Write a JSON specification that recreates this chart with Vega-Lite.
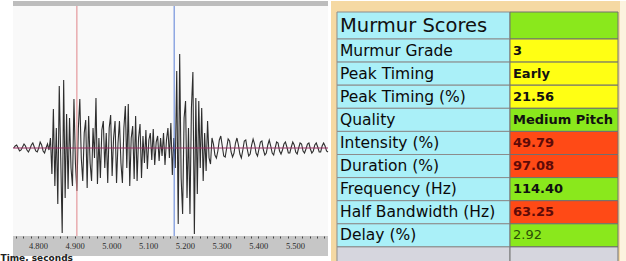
{
  "$schema": "https://vega.github.io/schema/vega-lite/v6.json",
  "padding": {"left": 0, "top": 0, "right": 0, "bottom": 0},
  "background": "white",
  "spacing": 0,
  "resolve": {"scale": {"color": "independent"}},
  "config": {"view": {"stroke": null}},
  "datasets": {
    "wave": [
      {"t":4.734,"a":0},{"t":4.738,"a":2},{"t":4.742,"a":3},{"t":4.746,"a":0},{"t":4.750,"a":-3},{"t":4.754,"a":-2},{"t":4.758,"a":1},{"t":4.762,"a":4},{"t":4.766,"a":2},{"t":4.770,"a":-2},
      {"t":4.774,"a":-4},{"t":4.778,"a":-1},{"t":4.782,"a":3},{"t":4.786,"a":5},{"t":4.790,"a":1},{"t":4.794,"a":-3},{"t":4.798,"a":-4},{"t":4.802,"a":0},{"t":4.806,"a":6},{"t":4.810,"a":3},
      {"t":4.814,"a":-3},{"t":4.818,"a":-5},{"t":4.822,"a":0},{"t":4.826,"a":4},{"t":4.830,"a":-2},
      {"t":4.834,"a":10},{"t":4.838,"a":-26},{"t":4.842,"a":39},{"t":4.846,"a":-38},{"t":4.850,"a":20},{"t":4.854,"a":-56},{"t":4.858,"a":62},{"t":4.862,"a":-10},{"t":4.866,"a":-85},{"t":4.870,"a":68},
      {"t":4.874,"a":-50},{"t":4.878,"a":34},{"t":4.882,"a":-41},{"t":4.886,"a":30},{"t":4.890,"a":-20},{"t":4.894,"a":-38},{"t":4.898,"a":49},{"t":4.902,"a":-15},{"t":4.906,"a":-43},{"t":4.910,"a":20},
      {"t":4.914,"a":49},{"t":4.918,"a":-10},{"t":4.922,"a":-33},{"t":4.926,"a":15},{"t":4.930,"a":28},{"t":4.934,"a":-40},{"t":4.938,"a":32},{"t":4.942,"a":-15},{"t":4.946,"a":-33},{"t":4.950,"a":20},
      {"t":4.954,"a":-10},{"t":4.958,"a":50},{"t":4.962,"a":-36},{"t":4.966,"a":10},{"t":4.970,"a":-30},{"t":4.974,"a":18},{"t":4.978,"a":27},{"t":4.982,"a":-20},{"t":4.986,"a":15},{"t":4.990,"a":-35},
      {"t":4.994,"a":20},{"t":4.998,"a":33},{"t":5.002,"a":-28},{"t":5.006,"a":10},{"t":5.010,"a":27},{"t":5.014,"a":-35},{"t":5.018,"a":5},{"t":5.022,"a":27},{"t":5.026,"a":-15},{"t":5.030,"a":-35},
      {"t":5.034,"a":20},{"t":5.038,"a":42},{"t":5.042,"a":-20},{"t":5.046,"a":44},{"t":5.050,"a":-38},{"t":5.054,"a":10},{"t":5.058,"a":22},{"t":5.062,"a":-31},{"t":5.066,"a":32},{"t":5.070,"a":-33},
      {"t":5.074,"a":10},{"t":5.078,"a":24},{"t":5.082,"a":-30},{"t":5.086,"a":12},{"t":5.090,"a":-15},
      {"t":5.094,"a":18},{"t":5.098,"a":-21},{"t":5.102,"a":8},{"t":5.106,"a":15},{"t":5.110,"a":-12},{"t":5.114,"a":19},{"t":5.118,"a":-17},{"t":5.122,"a":6},{"t":5.126,"a":12},{"t":5.130,"a":-13},
      {"t":5.134,"a":10},{"t":5.138,"a":-8},{"t":5.142,"a":15},{"t":5.146,"a":-17},{"t":5.150,"a":8},{"t":5.154,"a":20},
      {"t":5.158,"a":-10},{"t":5.162,"a":25},{"t":5.166,"a":-27},{"t":5.170,"a":10},{"t":5.174,"a":-20},{"t":5.178,"a":77},{"t":5.182,"a":-76},{"t":5.186,"a":94},{"t":5.190,"a":-30},{"t":5.194,"a":-66},
      {"t":5.198,"a":30},{"t":5.202,"a":47},{"t":5.206,"a":-50},{"t":5.210,"a":20},{"t":5.214,"a":-66},{"t":5.218,"a":40},{"t":5.222,"a":76},{"t":5.226,"a":-86},{"t":5.230,"a":50},{"t":5.234,"a":-46},
      {"t":5.238,"a":47},{"t":5.242,"a":-20},{"t":5.246,"a":40},{"t":5.250,"a":-33},{"t":5.254,"a":15},{"t":5.258,"a":-23},{"t":5.262,"a":27},{"t":5.266,"a":-10},{"t":5.270,"a":-16},
      {"t":5.274,"a":10},{"t":5.278,"a":4},{"t":5.282,"a":-7},{"t":5.286,"a":-10},{"t":5.290,"a":-3},{"t":5.294,"a":8},{"t":5.298,"a":12},{"t":5.302,"a":2},{"t":5.306,"a":-8},{"t":5.310,"a":-9},
      {"t":5.314,"a":0},{"t":5.318,"a":9},{"t":5.322,"a":7},{"t":5.326,"a":-4},{"t":5.330,"a":-9},{"t":5.334,"a":-5},{"t":5.338,"a":5},{"t":5.342,"a":10},{"t":5.346,"a":3},{"t":5.350,"a":-6},
      {"t":5.354,"a":-10},{"t":5.358,"a":-2},{"t":5.362,"a":7},{"t":5.366,"a":8},{"t":5.370,"a":-1},{"t":5.374,"a":-8},{"t":5.378,"a":-6},{"t":5.382,"a":3},{"t":5.386,"a":9},{"t":5.390,"a":4},
      {"t":5.394,"a":-5},{"t":5.398,"a":-8},{"t":5.402,"a":-1},{"t":5.406,"a":6},{"t":5.410,"a":7},{"t":5.414,"a":-2},{"t":5.418,"a":-7},{"t":5.422,"a":-5},{"t":5.426,"a":3},{"t":5.430,"a":8},
      {"t":5.434,"a":2},{"t":5.438,"a":-5},{"t":5.442,"a":-7},{"t":5.446,"a":0},{"t":5.450,"a":6},{"t":5.454,"a":5},{"t":5.458,"a":-3},{"t":5.462,"a":-6},{"t":5.466,"a":-2},{"t":5.470,"a":4},
      {"t":5.474,"a":6},{"t":5.478,"a":1},{"t":5.482,"a":-5},{"t":5.486,"a":-5},{"t":5.490,"a":1},{"t":5.494,"a":6},{"t":5.498,"a":3},{"t":5.502,"a":-4},{"t":5.506,"a":-6},{"t":5.510,"a":0},
      {"t":5.514,"a":5},{"t":5.518,"a":4},{"t":5.522,"a":-3},{"t":5.526,"a":-5},{"t":5.530,"a":-1},{"t":5.534,"a":4},{"t":5.538,"a":5},{"t":5.542,"a":-1},{"t":5.546,"a":-5},{"t":5.550,"a":-3},
      {"t":5.554,"a":3},{"t":5.558,"a":5},{"t":5.562,"a":1},{"t":5.566,"a":-4},{"t":5.570,"a":-4},{"t":5.574,"a":2},{"t":5.578,"a":5},{"t":5.582,"a":2},{"t":5.586,"a":-3},{"t":5.590,"a":-4}
    ],
    "markers": [
      {"marker": "start", "t": 4.906},
      {"marker": "end", "t": 5.171}
    ],
    "scores": [
      {"label": "Murmur Scores", "value": "", "status": "green", "part": "header"},
      {"label": "Murmur Grade", "value": "3", "status": "yellow", "part": "body"},
      {"label": "Peak Timing", "value": "Early", "status": "yellow", "part": "body"},
      {"label": "Peak Timing (%)", "value": "21.56", "status": "yellow", "part": "body"},
      {"label": "Quality", "value": "Medium Pitch", "status": "green", "part": "body"},
      {"label": "Intensity (%)", "value": "49.79", "status": "red", "part": "body"},
      {"label": "Duration (%)", "value": "97.08", "status": "red", "part": "body"},
      {"label": "Frequency (Hz)", "value": "114.40", "status": "green", "part": "body"},
      {"label": "Half Bandwidth (Hz)", "value": "63.25", "status": "red", "part": "body"},
      {"label": "Delay (%)", "value": "2.92", "status": "green", "part": "body"},
      {"label": "", "value": "", "status": "blank", "part": "body"}
    ]
  },
  "hconcat": [
    {
      "width": 315,
      "height": 255,
      "view": {"fill": "#f9f9f9", "stroke": null},
      "layer": [
        {
          "data": {"name": "wave"},
          "mark": {"type": "line", "color": "#2e2e2e", "strokeWidth": 1.1, "interpolate": "linear"},
          "encoding": {
            "x": {
              "field": "t", "type": "quantitative", "title": "Time, seconds",
              "scale": {"domain": [4.732, 5.59], "nice": false, "zero": false},
              "axis": {
                "offset": -20, "domain": false, "grid": false, "tickCount": 43,
                "tickSize": 2, "tickColor": "#444444", "tickWidth": 1,
                "labelExpr": "abs(datum.value*10 - round(datum.value*10)) < 0.001 ? format(datum.value, '.3f') : ''",
                "labelFont": "Liberation Sans Narrow", "labelFontSize": 8.5, "labelColor": "#2a2a2a",
                "labelPadding": 3, "labelOverlap": false, "labelFlush": false,
                "titleFont": "DejaVu Sans", "titleFontSize": 9,
                "titleFontWeight": "bold", "titleColor": "#222222", "titleAnchor": "start",
                "titleAlign": "left", "titleX": -13, "titleY": 24, "titleBaseline": "alphabetic",
                "zindex": 1
              }
            },
            "y": {"field": "a", "type": "quantitative", "scale": {"domain": [-108, 147], "nice": false, "zero": false}, "axis": null}
          }
        },
        {
          "data": {"values": [{}]},
          "mark": {"type": "rule", "color": "#9a2f62", "strokeWidth": 1},
          "encoding": {
            "y": {"datum": 0, "type": "quantitative", "scale": {"domain": [-108, 147], "nice": false, "zero": false}, "axis": null}
          }
        },
        {
          "data": {"name": "markers"},
          "transform": [{"filter": "datum.marker == 'start'"}],
          "mark": {"type": "rule", "strokeWidth": 1, "color": "#e0858b"},
          "encoding": {
            "x": {"field": "t", "type": "quantitative", "title": "Time, seconds"}
          }
        },
        {
          "data": {"name": "markers"},
          "transform": [{"filter": "datum.marker == 'end'"}],
          "mark": {"type": "rule", "strokeWidth": 1, "color": "#5a7ed6"},
          "encoding": {
            "x": {"field": "t", "type": "quantitative", "title": "Time, seconds"}
          }
        },
        {
          "data": {"values": [{}]},
          "mark": {"type": "rect", "color": "#c6c6c6"},
          "encoding": {
            "y": {"datum": -88, "type": "quantitative", "scale": {"domain": [-108, 147], "nice": false, "zero": false}, "axis": null},
            "y2": {"datum": -108}
          }
        },
        {
          "data": {"values": [{}]},
          "mark": {"type": "rect", "color": "#bdbdbd"},
          "encoding": {
            "y": {"datum": 147, "type": "quantitative", "scale": {"domain": [-108, 147], "nice": false, "zero": false}, "axis": null},
            "y2": {"datum": 142}
          }
        }
      ]
    },
    {
      "width": 298,
      "height": 261,
      "view": {"fill": "#f5d9a3", "stroke": null},
      "data": {"name": "scores"},
      "resolve": {"scale": {"y": "independent"}},
      "layer": [
        {
          "data": {"values": [{}]},
          "mark": {"type": "rect", "color": "#fcf3df"},
          "encoding": {
            "x": {"datum": 0.9698, "type": "quantitative", "scale": {"domain": [0, 1], "nice": false, "zero": false}, "axis": null},
            "x2": {"datum": 1}
          }
        },
        {
          "transform": [{"filter": "datum.part == 'header'"}],
          "mark": {"type": "rect", "color": "#aaf0f8", "stroke": "#8c8c8c", "strokeWidth": 1},
          "encoding": {
            "x": {"datum": 0.0201, "type": "quantitative", "scale": {"domain": [0, 1], "nice": false, "zero": false}, "axis": null},
            "x2": {"datum": 0.6007},
            "y": {"field": "label", "type": "nominal", "scale": {"domain": ["Murmur Scores"], "range": [11, 38], "paddingInner": 0, "paddingOuter": 0}, "axis": null}
          }
        },
        {
          "transform": [{"filter": "datum.part == 'header'"}],
          "mark": {"type": "rect", "color": "#8ae81c", "stroke": "#707070", "strokeWidth": 1},
          "encoding": {
            "x": {"datum": 0.6007, "type": "quantitative", "scale": {"domain": [0, 1], "nice": false, "zero": false}, "axis": null},
            "x2": {"datum": 0.9631},
            "y": {"field": "label", "type": "nominal", "scale": {"domain": ["Murmur Scores"], "range": [11, 38], "paddingInner": 0, "paddingOuter": 0}, "axis": null}
          }
        },
        {
          "transform": [{"filter": "datum.part == 'header'"}],
          "mark": {"type": "text", "align": "left", "baseline": "middle", "font": "DejaVu Sans", "fontSize": 19.5, "color": "#111111"},
          "encoding": {
            "x": {"datum": 0.0302, "type": "quantitative", "scale": {"domain": [0, 1], "nice": false, "zero": false}, "axis": null},
            "y": {"field": "label", "type": "nominal", "scale": {"domain": ["Murmur Scores"], "range": [11, 38], "paddingInner": 0, "paddingOuter": 0}, "axis": null},
            "text": {"field": "label"}
          }
        },
        {
          "transform": [{"filter": "datum.part == 'body'"}],
          "mark": {"type": "rect", "stroke": "#8c8c8c", "strokeWidth": 1, "clip": true},
          "encoding": {
            "x": {"datum": 0.0201, "type": "quantitative", "scale": {"domain": [0, 1], "nice": false, "zero": false}, "axis": null},
            "x2": {"datum": 0.6007},
            "y": {"field": "label", "type": "nominal", "scale": {"domain": ["Murmur Grade", "Peak Timing", "Peak Timing (%)", "Quality", "Intensity (%)", "Duration (%)", "Frequency (Hz)", "Half Bandwidth (Hz)", "Delay (%)", ""], "range": [38, 269], "paddingInner": 0, "paddingOuter": 0}, "axis": null},
            "color": {"condition": {"test": "datum.status == 'blank'", "value": "#d6d6de"}, "value": "#aaf0f8"}
          }
        },
        {
          "transform": [{"filter": "datum.part == 'body'"}],
          "mark": {"type": "rect", "stroke": "#707070", "strokeWidth": 1, "clip": true},
          "encoding": {
            "x": {"datum": 0.6007, "type": "quantitative", "scale": {"domain": [0, 1], "nice": false, "zero": false}, "axis": null},
            "x2": {"datum": 0.9631},
            "y": {"field": "label", "type": "nominal", "scale": {"domain": ["Murmur Grade", "Peak Timing", "Peak Timing (%)", "Quality", "Intensity (%)", "Duration (%)", "Frequency (Hz)", "Half Bandwidth (Hz)", "Delay (%)", ""], "range": [38, 269], "paddingInner": 0, "paddingOuter": 0}, "axis": null},
            "color": {"field": "status", "type": "nominal", "scale": {"domain": ["green", "yellow", "red", "blank"], "range": ["#8ae81c", "#ffff14", "#ff4a16", "#d6d6de"]}, "legend": null}
          }
        },
        {
          "transform": [{"filter": "datum.part == 'body' && datum.label != ''"}],
          "mark": {"type": "text", "align": "left", "baseline": "middle", "font": "DejaVu Sans", "fontSize": 15.5, "color": "#0a0a0a"},
          "encoding": {
            "x": {"datum": 0.0302, "type": "quantitative", "scale": {"domain": [0, 1], "nice": false, "zero": false}, "axis": null},
            "y": {"field": "label", "type": "nominal", "scale": {"domain": ["Murmur Grade", "Peak Timing", "Peak Timing (%)", "Quality", "Intensity (%)", "Duration (%)", "Frequency (Hz)", "Half Bandwidth (Hz)", "Delay (%)", ""], "range": [38, 269], "paddingInner": 0, "paddingOuter": 0}, "axis": null},
            "text": {"field": "label"}
          }
        },
        {
          "transform": [{"filter": "datum.part == 'body' && datum.value != '' && datum.label != 'Delay (%)'"}],
          "mark": {"type": "text", "align": "left", "baseline": "middle", "font": "DejaVu Sans", "fontSize": 13, "fontWeight": "bold"},
          "encoding": {
            "x": {"datum": 0.6107, "type": "quantitative", "scale": {"domain": [0, 1], "nice": false, "zero": false}, "axis": null},
            "y": {"field": "label", "type": "nominal", "scale": {"domain": ["Murmur Grade", "Peak Timing", "Peak Timing (%)", "Quality", "Intensity (%)", "Duration (%)", "Frequency (Hz)", "Half Bandwidth (Hz)", "Delay (%)", ""], "range": [38, 269], "paddingInner": 0, "paddingOuter": 0}, "axis": null},
            "text": {"field": "value"},
            "color": {"condition": {"test": "datum.status == 'red'", "value": "#5e0a08"}, "value": "#111111"}
          }
        },
        {
          "transform": [{"filter": "datum.label == 'Delay (%)'"}],
          "mark": {"type": "text", "align": "left", "baseline": "middle", "font": "DejaVu Sans", "fontSize": 13, "color": "#2c4f06"},
          "encoding": {
            "x": {"datum": 0.6107, "type": "quantitative", "scale": {"domain": [0, 1], "nice": false, "zero": false}, "axis": null},
            "y": {"field": "label", "type": "nominal", "scale": {"domain": ["Murmur Grade", "Peak Timing", "Peak Timing (%)", "Quality", "Intensity (%)", "Duration (%)", "Frequency (Hz)", "Half Bandwidth (Hz)", "Delay (%)", ""], "range": [38, 269], "paddingInner": 0, "paddingOuter": 0}, "axis": null},
            "text": {"field": "value"}
          }
        }
      ]
    }
  ]
}
